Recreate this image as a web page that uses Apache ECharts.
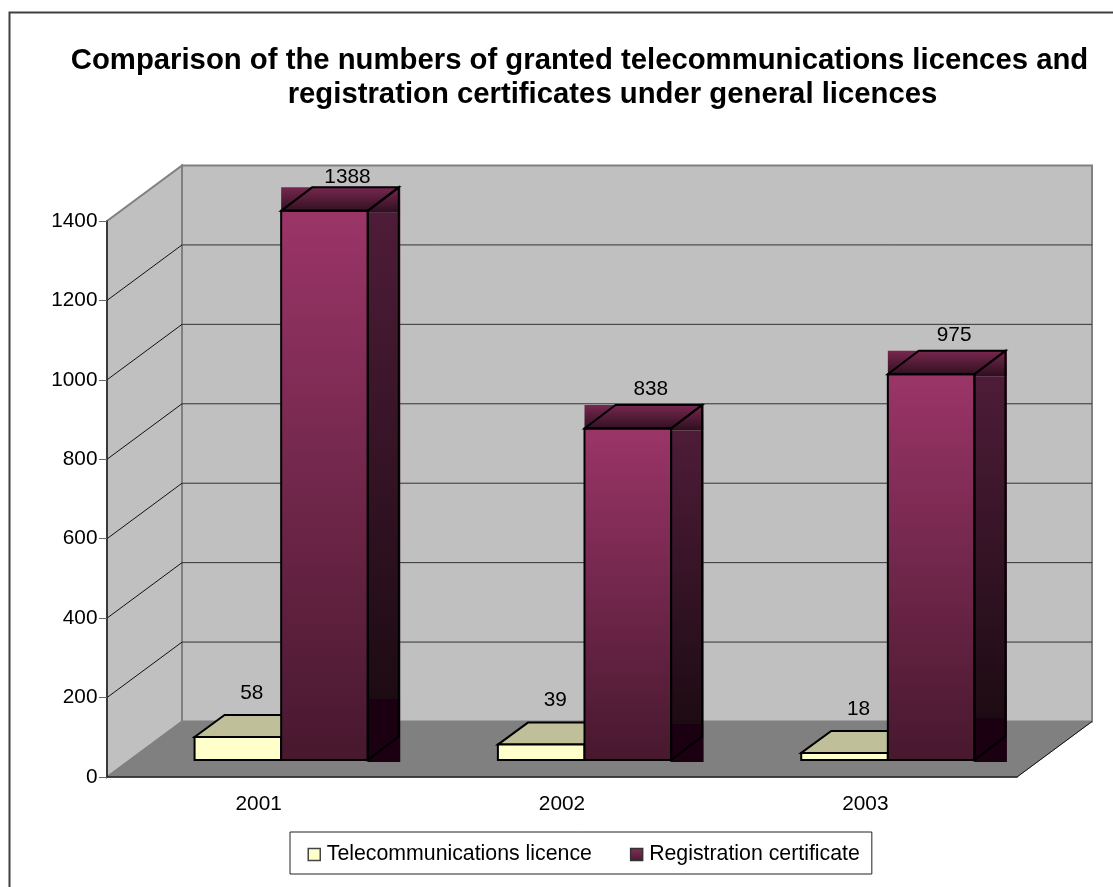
<!DOCTYPE html>
<html>
<head>
<meta charset="utf-8">
<style>html,body{margin:0;padding:0;background:#fff;overflow:hidden}#chart{width:1113px;height:887px}</style>
<script src="https://cdn.jsdelivr.net/npm/echarts@6/dist/echarts.min.js"></script>
</head>
<body>
<div id="chart"></div>
<script>
// Granted licences and certificates per year
const categories = ['2001', '2002', '2003'];
const licences = [58, 39, 18];
const certificates = [1388, 838, 975];
const gridValues = [200, 400, 600, 800, 1000, 1200, 1400];
const titleLines = [
  'Comparison of the numbers of granted telecommunications licences and',
  'registration certificates under general licences'
];

// Oblique projection of the plot box
const FONT = '"Liberation Sans", Arial, sans-serif';
const WALL = { dx: 75, dy: -55.5 };     // front plane to back wall
const PLANE = { dx: 22.5, dy: -17 };    // front plane to the bars' front faces
const CERT_DEPTH = { dx: 31, dy: -23.5 };
const LICENCE_DEPTH = { dx: 30, dy: -22 };
const BAR_SCALE = 0.9962;               // vertical foreshortening at the bars' plane
const BAR_WIDTH_RATIO = 0.2855;         // bar width as a share of a category band

const vGrad = (stops) => ({
  type: 'linear', x: 0, y: 0, x2: 0, y2: 1,
  colorStops: stops.map(([offset, color]) => ({ offset, color }))
});
const FRONT_FILL = vGrad([[0, '#9b3568'], [1, '#47182e']]);
const TOP_FILL = vGrad([[0, '#78274f'], [1, '#2c0f1e']]);
const SIDE_FILL = vGrad([[0, '#4e1c38'], [0.885, '#1d0b13'], [0.886, '#1a0012'], [1, '#1a0010']]);

const poly = (points, style) => ({ type: 'polygon', shape: { points }, style });
const line = (a, b, stroke, lineWidth) => ({
  type: 'line',
  shape: { x1: a[0], y1: a[1], x2: b[0], y2: b[1] },
  style: { stroke, lineWidth }
});

function renderWalls(params) {
  const c = params.coordSys;
  const l = c.x, r = c.x + c.width, t = c.y, b = c.y + c.height;
  const bx = (x) => x + WALL.dx, by = (y) => y + WALL.dy;
  const edge = { stroke: '#808080', lineWidth: 2 };
  return {
    type: 'group',
    children: [
      poly([[bx(l), by(t)], [bx(r), by(t)], [bx(r), by(b)], [bx(l), by(b)]], { fill: '#c0c0c0', ...edge }),
      poly([[l, t], [bx(l), by(t)], [bx(l), by(b)], [l, b]], { fill: '#c0c0c0', ...edge }),
      poly([[l, b], [bx(l), by(b)], [bx(r), by(b)], [r, b]], { fill: '#808080', stroke: '#808080', lineWidth: 1 }),
      line([r, b], [bx(r), by(b)], '#111', 1)
    ]
  };
}

function renderGridline(params, api) {
  const c = params.coordSys;
  const y = api.coord([0, api.value(1)])[1];
  if (api.value(1) === 1400) return { type: 'group', children: [] };
  return {
    type: 'group',
    children: [
      line([c.x, y], [c.x + WALL.dx, y + WALL.dy], '#111', 1),
      line([c.x + WALL.dx, y + WALL.dy], [c.x + c.width + WALL.dx, y + WALL.dy], '#333', 1)
    ]
  };
}

// Shared geometry of a bar's front face; side is -1 left of the band centre, 0 right of it
function barBox(api, side) {
  const zero = api.coord([api.value(0), 0]);
  const top = api.coord([api.value(0), api.value(1)]);
  const w = api.size([1, 0])[0] * BAR_WIDTH_RATIO;
  const x0 = zero[0] + PLANE.dx + side * w;
  const y0 = zero[1] + PLANE.dy;
  const y1 = y0 - (zero[1] - top[1]) * BAR_SCALE;
  return { x0, x1: x0 + w, y0, y1 };
}

function valueLabel(x, y, value) {
  return {
    type: 'text',
    z2: 5,
    style: {
      x, y: Math.max(y, 177), text: String(value),
      fill: '#000', font: '20.8px ' + FONT, align: 'center', verticalAlign: 'middle'
    }
  };
}

function renderLicence(params, api) {
  const { x0, x1, y0, y1 } = barBox(api, -1);
  const { dx, dy } = LICENCE_DEPTH;
  const outline = { stroke: '#000', lineWidth: 2 };
  return {
    type: 'group',
    children: [
      poly([[x0, y1], [x0 + dx, y1 + dy], [x1 + dx, y1 + dy], [x1, y1]], { fill: '#bfbf99', ...outline }),
      { type: 'rect', shape: { x: x0, y: y1, width: x1 - x0, height: y0 - y1 }, style: { fill: '#ffffcc', ...outline } },
      valueLabel((x0 + x1) / 2 + 14, y1 - 44, api.value(1))
    ]
  };
}

function renderCertificate(params, api) {
  const { x0, x1, y0, y1 } = barBox(api, 0);
  const xb = x1 + CERT_DEPTH.dx, yb = y1 + CERT_DEPTH.dy;
  const edges = (points) => poly(points, { fill: 'none', stroke: '#000', lineWidth: 2 });
  return {
    type: 'group',
    children: [
      { type: 'rect', shape: { x: x0, y: yb, width: xb - x0 + 1.5, height: y1 - yb + 2 }, style: { fill: TOP_FILL } },
      { type: 'rect', shape: { x: x1, y: y1 + 2, width: xb - x1 + 1.5, height: y0 - y1 }, style: { fill: SIDE_FILL } },
      { type: 'rect', shape: { x: x0, y: y1, width: x1 - x0, height: y0 - y1 }, style: { fill: FRONT_FILL } },
      edges([[x0, y1], [x0 + CERT_DEPTH.dx, yb], [xb, yb], [x1, y1]]),
      edges([[x1, y1], [xb, yb], [xb, y0 + CERT_DEPTH.dy], [x1, y0]]),
      { type: 'rect', shape: { x: x0, y: y1, width: x1 - x0, height: y0 - y1 }, style: { fill: 'none', stroke: '#000', lineWidth: 2 } },
      valueLabel((x0 + x1) / 2 + 23, y1 - 39, api.value(1))
    ]
  };
}

const titleStyle = { fontFamily: FONT, fontWeight: 'bold', fontSize: 29.3, lineHeight: 34, color: '#000' };
const chart = echarts.init(document.getElementById('chart'));
chart.setOption({
  animation: false,
  backgroundColor: '#fff',
  title: [
    { text: titleLines[0], left: 579.5, top: 44, padding: 0, textAlign: 'center', textStyle: titleStyle },
    { text: titleLines[1], left: 612.5, top: 78, padding: 0, textAlign: 'center', textStyle: titleStyle }
  ],
  graphic: [{
    type: 'polyline',
    shape: { points: [[9.5, 1000], [9.5, 12.5], [1200, 12.5]] },
    style: { stroke: '#404040', fill: 'none', lineWidth: 2 }
  }],
  legend: {
    left: 290,
    top: 832,
    padding: [12, 12, 9, 17.5],
    itemGap: 38,
    itemWidth: 12,
    itemHeight: 12,
    icon: 'rect',
    backgroundColor: '#fff',
    borderColor: '#222',
    borderWidth: 1,
    textStyle: { fontFamily: FONT, fontSize: 21.3, color: '#000', padding: [0, 0, 0, 1.5] },
    data: [
      { name: 'Telecommunications licence', itemStyle: { color: '#ffffcc', borderColor: '#444', borderWidth: 1.5 } },
      { name: 'Registration certificate', itemStyle: { color: vGrad([[0, '#8a2f5c'], [1, '#4a1a30']]), borderColor: '#333', borderWidth: 1.5 } }
    ]
  },
  grid: { left: 107, right: 96, top: 221, bottom: 110 },
  xAxis: {
    type: 'category',
    data: categories,
    z: 1,
    axisLine: { lineStyle: { color: '#222', width: 1.5 } },
    axisTick: { length: 8, lineStyle: { color: '#666' } },
    axisLabel: { fontFamily: FONT, fontSize: 20.8, color: '#000', margin: 17 }
  },
  yAxis: {
    type: 'value',
    min: 0,
    max: 1400,
    interval: 200,
    z: 1,
    splitLine: { show: false },
    axisLine: { show: true, lineStyle: { color: '#222', width: 1.5 } },
    axisTick: { show: true, length: 8, lineStyle: { color: '#666' } },
    axisLabel: { fontFamily: FONT, fontSize: 20.8, color: '#000', margin: 9.5, formatter: (v) => String(v) }
  },
  series: [
    { type: 'custom', z: 0, silent: true, data: [[0, 0]], renderItem: renderWalls },
    {
      type: 'custom', z: 0, silent: true, renderItem: renderGridline,
      data: gridValues.map((v) => [0, v]), encode: { x: 0, y: 1 }
    },
    {
      name: 'Telecommunications licence', type: 'custom', z: 2, renderItem: renderLicence,
      data: licences.map((v, i) => [i, v]), encode: { x: 0, y: 1 }
    },
    {
      name: 'Registration certificate', type: 'custom', z: 3, renderItem: renderCertificate,
      data: certificates.map((v, i) => [i, v]), encode: { x: 0, y: 1 }
    }
  ]
});
</script>
</body>
</html>
